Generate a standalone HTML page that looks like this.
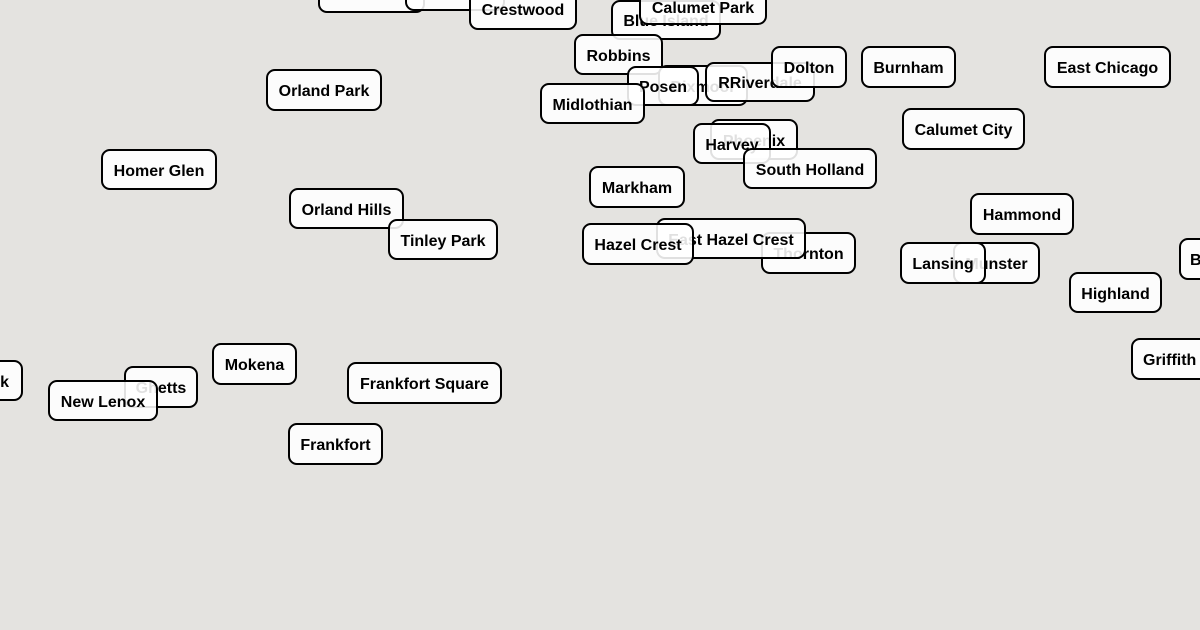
<!DOCTYPE html>
<html><head><style>
body{margin:0;width:1200px;height:630px;background:#e4e3e0;position:relative;overflow:hidden;font-family:"Liberation Sans",Arial,sans-serif}
.b{position:absolute;box-sizing:border-box;border:2.8px solid #000;border-radius:9px;background:rgba(255,255,255,0.88);display:flex;align-items:center;justify-content:center;font-weight:bold;font-size:16px;color:#000;white-space:nowrap;padding-top:4px}
</style></head><body>
<div class="b" style="left:318px;top:-22px;width:107px;height:35px"></div>
<div class="b" style="left:405px;top:-22px;width:100px;height:33px"></div>
<div class="b" style="left:469px;top:-12px;width:108px;height:42px">Crestwood</div>
<div class="b" style="left:611px;top:0px;width:110px;height:40px">Blue Island</div>
<div class="b" style="left:639px;top:-14px;width:128px;height:39px;padding-top:6px">Calumet Park</div>
<div class="b" style="left:574px;top:34px;width:89px;height:41px">Robbins</div>
<div class="b" style="left:658px;top:65px;width:90px;height:41px">Dixmoor</div>
<div class="b" style="left:627px;top:66px;width:72px;height:40px">Posen</div>
<div class="b" style="left:705px;top:62px;width:110px;height:40px">RRiverdale</div>
<div class="b" style="left:771px;top:46px;width:76px;height:42px">Dolton</div>
<div class="b" style="left:861px;top:46px;width:95px;height:42px">Burnham</div>
<div class="b" style="left:1044px;top:46px;width:127px;height:42px">East Chicago</div>
<div class="b" style="left:266px;top:69px;width:116px;height:42px">Orland Park</div>
<div class="b" style="left:540px;top:83px;width:105px;height:41px">Midlothian</div>
<div class="b" style="left:710px;top:119px;width:88px;height:41px">Phoenix</div>
<div class="b" style="left:693px;top:123px;width:78px;height:41px">Harvey</div>
<div class="b" style="left:743px;top:148px;width:134px;height:41px">South Holland</div>
<div class="b" style="left:902px;top:108px;width:123px;height:42px">Calumet City</div>
<div class="b" style="left:101px;top:149px;width:116px;height:41px">Homer Glen</div>
<div class="b" style="left:589px;top:166px;width:96px;height:42px">Markham</div>
<div class="b" style="left:289px;top:188px;width:115px;height:41px">Orland Hills</div>
<div class="b" style="left:388px;top:219px;width:110px;height:41px">Tinley Park</div>
<div class="b" style="left:970px;top:193px;width:104px;height:42px">Hammond</div>
<div class="b" style="left:761px;top:232px;width:95px;height:42px">Thornton</div>
<div class="b" style="left:656px;top:218px;width:150px;height:41px">East Hazel Crest</div>
<div class="b" style="left:582px;top:223px;width:112px;height:42px">Hazel Crest</div>
<div class="b" style="left:953px;top:242px;width:87px;height:42px">Munster</div>
<div class="b" style="left:900px;top:242px;width:86px;height:42px">Lansing</div>
<div class="b" style="left:1069px;top:272px;width:93px;height:41px">Highland</div>
<div class="b" style="left:1179px;top:238px;width:60px;height:42px;justify-content:flex-start;padding-left:9px">B</div>
<div class="b" style="left:1131px;top:338px;width:90px;height:42px;justify-content:flex-start;padding-left:10px">Griffith</div>
<div class="b" style="left:-70px;top:360px;width:93px;height:41px;justify-content:flex-end;padding-right:12px">rk</div>
<div class="b" style="left:212px;top:343px;width:85px;height:42px">Mokena</div>
<div class="b" style="left:347px;top:362px;width:155px;height:42px">Frankfort Square</div>
<div class="b" style="left:124px;top:366px;width:74px;height:42px">Ghetts</div>
<div class="b" style="left:48px;top:380px;width:110px;height:41px">New Lenox</div>
<div class="b" style="left:288px;top:423px;width:95px;height:42px">Frankfort</div>
</body></html>
